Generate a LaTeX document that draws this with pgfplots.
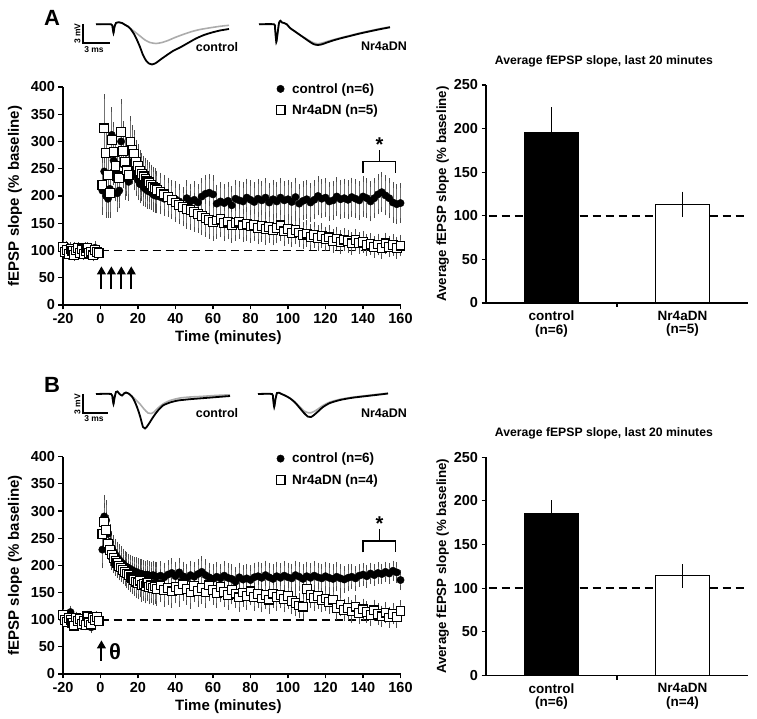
\documentclass[border=0pt]{standalone}
\usepackage{pgfplots}
\usepackage{pgfplotstable}
\pgfplotsset{compat=1.18}
\usetikzlibrary{arrows.meta}
\usepackage{fontspec}
\setmainfont{Liberation Sans}
\newcommand{\fs}[1]{\fontsize{#1}{#1}\selectfont\bfseries}

% ---------- Panel A, control ----------
\pgfplotstableread{
x y e
-20 104 7
-19 99 6
-18 107 6
-17 96 5
-16 102 6
-15 97 6
-14 104 7
-13 99 5
-12 93 6
-11 101 6
-10 98 5
-9 95 6
-8 104 6
-7 99 7
-6 94 5
-5 102 6
-4 97 6
-3 105 7
-2 98 6
-1 100 5
1 210 40
2 245 42
3 200 35
4 195 30
5 213 32
6 312 45
7 265 40
8 233 38
9 205 30
10 210 28
11 300 42
12 258 38
13 233 35
14 248 32
15 226 30
16 290 40
17 262 36
18 250 35
19 238 33
20 229 32
21 222 31
22 225 30
23 216 30
24 213 29
25 210 29
26 208 28
27 207 28
28 203 28
29 201 27
30 200 27
32 198 27
34 195 27
36 197 28
38 193 28
40 194 28
42 190 28
44 178 27
46 196 28
48 190 28
50 193 29
52 188 29
54 199 29
56 204 30
58 206 30
60 203 30
62 186 30
64 190 30
66 187 30
68 191 30
70 183 30
72 195 30
74 192 30
76 190 30
78 197 30
80 193 31
82 189 31
84 195 31
86 192 31
88 197 31
90 188 31
92 194 31
94 190 31
96 197 31
98 192 31
100 194 31
102 189 31
104 198 31
106 186 31
108 191 31
110 194 31
112 188 31
114 193 31
116 200 31
118 195 31
120 197 31
122 190 31
124 192 31
126 199 31
128 194 31
130 196 31
132 193 31
134 198 31
136 195 31
138 192 31
140 199 32
142 196 32
144 190 32
146 196 32
148 203 32
150 207 32
152 201 32
154 196 32
156 188 32
158 185 32
160 187 32
}\Actrl

% ---------- Panel A, Nr4aDN ----------
\pgfplotstableread{
x y e
-20 106 8
-19 97 7
-18 101 6
-17 94 6
-16 103 7
-15 99 6
-14 92 6
-13 100 7
-12 105 6
-11 96 6
-10 102 7
-9 93 6
-8 99 6
-7 104 7
-6 95 6
-5 98 6
-4 91 6
-3 101 7
-2 97 6
-1 95 6
1 220 45
2 324 58
3 279 50
4 238 45
5 205 40
6 303 55
7 281 50
8 255 45
9 236 42
10 233 40
11 318 55
12 282 50
13 262 45
14 247 42
15 238 40
16 300 42
17 285 40
18 278 38
19 262 36
20 255 35
21 246 34
22 240 34
23 236 33
24 232 33
25 228 33
26 225 32
27 221 32
28 217 32
29 214 32
30 211 31
32 207 31
34 203 31
36 198 31
38 193 31
40 188 31
42 184 31
44 180 31
46 176 31
48 174 31
50 170 31
52 167 30
54 163 30
56 160 30
58 156 30
60 152 30
62 155 29
64 158 29
66 150 28
68 153 28
70 147 28
72 150 27
74 153 27
76 146 26
78 149 26
80 144 25
82 147 25
84 141 25
86 145 24
88 139 24
90 143 24
92 137 23
94 141 23
96 146 23
98 135 22
100 139 22
102 132 21
104 137 21
106 133 21
108 128 20
110 131 20
112 125 19
114 129 19
116 123 19
118 127 18
120 121 18
122 124 18
124 118 17
126 122 17
128 115 17
130 120 16
132 117 16
134 113 16
136 119 16
138 114 15
140 116 15
142 110 15
144 112 15
146 106 15
148 111 15
150 104 15
152 113 15
154 107 15
156 110 15
158 105 15
160 109 15
}\Anr

% ---------- Panel B, control ----------
\pgfplotstableread{
x y e
-20 101 6
-19 97 5
-18 106 6
-17 99 5
-16 114 7
-15 103 6
-14 95 5
-13 104 6
-12 98 5
-11 92 6
-10 100 5
-9 96 6
-8 103 5
-7 94 6
-6 99 5
-5 86 6
-4 97 5
-3 104 6
-2 99 5
-1 101 5
1 229 30
2 290 35
3 283 32
4 258 30
5 243 28
6 232 27
7 225 26
8 219 25
9 214 25
10 210 24
11 206 24
12 203 23
13 199 23
14 197 23
15 195 22
16 193 22
17 191 22
18 189 22
19 188 22
20 186 22
21 185 22
22 184 22
23 183 22
24 182 22
25 183 22
26 181 22
27 180 22
28 182 22
29 180 22
30 179 22
32 181 22
34 178 22
36 183 22
38 186 22
40 180 22
42 187 22
44 180 22
46 176 22
48 182 22
50 179 22
52 184 22
54 188 24
56 182 24
58 178 22
60 175 22
62 179 22
64 176 22
66 181 22
68 177 22
70 175 22
72 170 22
74 178 22
76 174 22
78 176 22
80 173 22
82 178 22
84 180 22
86 177 22
88 182 22
90 178 22
92 175 22
94 180 22
96 177 22
98 181 22
100 178 22
102 176 22
104 182 22
106 179 22
108 175 22
110 180 22
112 177 22
114 181 22
116 178 22
118 176 22
120 180 22
122 177 22
124 175 22
126 179 22
128 176 22
130 174 20
132 177 20
134 179 18
136 176 18
138 181 16
140 183 16
142 180 16
144 185 15
146 182 15
148 186 15
150 184 14
152 188 14
154 185 14
156 190 14
158 187 14
160 173 14
}\Bctrl

% ---------- Panel B, Nr4aDN ----------
\pgfplotstableread{
x y e
-20 108 6
-19 99 5
-18 96 5
-17 103 6
-16 100 5
-15 94 5
-14 89 5
-13 104 6
-12 97 5
-11 101 5
-10 92 5
-9 98 5
-8 90 5
-7 106 6
-6 95 5
-5 91 5
-4 103 6
-3 99 5
-2 105 6
-1 98 5
1 258 30
2 280 30
3 265 28
4 240 26
5 228 25
6 220 24
7 213 23
8 208 22
9 204 22
10 199 22
11 196 22
12 192 22
13 188 22
14 185 22
15 182 22
16 178 23
17 176 24
18 173 25
19 170 26
20 168 26
21 172 26
22 164 27
23 166 27
24 162 27
25 167 27
26 160 27
27 163 27
28 158 27
29 161 27
30 157 27
32 163 26
34 155 26
36 158 26
38 152 26
40 160 25
42 154 25
44 165 25
46 157 25
48 150 25
50 162 25
52 153 24
54 158 24
56 150 24
58 163 24
60 155 23
62 149 23
64 160 23
66 151 23
68 145 22
70 155 22
72 148 22
74 141 22
76 150 21
78 144 21
80 152 21
82 142 21
84 147 21
86 139 21
88 145 21
90 137 21
92 148 21
94 142 21
96 146 20
98 138 20
100 144 20
102 135 20
104 131 20
106 126 18
108 124 18
110 157 20
112 146 19
114 140 19
116 143 19
118 136 18
120 139 18
122 133 18
124 137 18
126 122 17
128 128 17
130 118 16
132 121 16
134 115 16
136 124 16
138 112 15
140 119 15
142 114 15
144 108 15
146 117 15
148 110 15
150 106 15
152 113 15
154 104 15
156 111 15
158 105 15
160 116 15
}\Bnr

\pgfplotsset{
  timeaxis/.style={
    scale only axis, width=337.5pt,
    xmin=-20, xmax=160, ymin=0, ymax=400,
    axis x line*=bottom, axis y line*=left,
    axis line style={line width=1.1pt},
    xtick={-20,0,...,160}, ytick={0,50,...,400},
    tick align=outside, major tick length=4.5pt,
    tick style={line width=1.1pt, black},
    tick label style={font=\fs{14.5}},
    /pgf/number format/assume math mode=true,
    xlabel={Time (minutes)}, ylabel={fEPSP slope (\% baseline)},
    label style={font=\fs{15}},
    xlabel style={at={(axis description cs:0.49,-0.148)}, anchor=center},
    ylabel style={at={(axis description cs:-0.142,0.5)}, anchor=center},
    clip=false,
    legend cell align=left,
    legend style={draw=none, fill=none, at={(0.631,1.025)}, anchor=north west,
      font=\fs{13.5}, row sep=7pt, inner sep=0pt, nodes={inner sep=1.5pt}},
    legend image code/.code={\draw[##1] plot coordinates {(0.15cm,0cm)}; \path[draw=none, fill=none] (0cm,-0.1cm) rectangle (0.5cm,0.1cm);},
  },
  ctrlplot/.style={only marks, mark=*, mark size=3.7pt,
    mark options={draw=black, fill=black},
    error bars/.cd, y dir=both, y explicit,
    error bar style={black!55, line width=0.6pt},
    error mark options={black!70, line width=0.6pt, mark size=2.6pt}},
  nrplot/.style={only marks, mark=square*, mark size=4.4pt,
    mark options={draw=black, fill=white, line width=1.1pt},
    error bars/.cd, y dir=both, y explicit,
    error bar style={black!55, line width=0.6pt},
    error mark options={black!70, line width=0.6pt, mark size=2.6pt}},
  baraxis/.style={
    scale only axis, width=262pt, height=218pt,
    xmin=0.5, xmax=2.5, ymin=0, ymax=250,
    axis x line*=bottom, axis y line*=left,
    axis line style={line width=1.1pt},
    xtick={1,2}, xtick style={draw=none},
    x tick label style={align=center, font=\fontsize{13.5}{13.5}\selectfont\bfseries},
    ytick={0,50,...,250},
    tick align=outside, major tick length=4.5pt,
    y tick style={line width=1.1pt, black},
    y tick label style={font=\fs{14.5}},
    /pgf/number format/assume math mode=true,
    ylabel={Average fEPSP slope (\% baseline)},
    ylabel style={at={(axis description cs:-0.165,0.5)}, anchor=center, font=\fs{13.3}},
    title={Average fEPSP slope, last 20 minutes},
    title style={at={(axis description cs:0.45,1)}, anchor=center, yshift=18pt, font=\fs{12.2}},
    clip=false,
  },
}

\begin{document}
\begin{tikzpicture}
\useasboundingbox (0,0) rectangle (757pt,719pt);

% ===== traces and panel letters (pixel frame) =====
\begin{axis}[at={(0pt,0pt)}, anchor=south west, scale only axis,
  width=757pt, height=719pt, xmin=0, xmax=757, ymin=0, ymax=719,
  y dir=reverse, hide axis, clip=false]
% A control
\addplot[gray!65, line width=1.6pt, smooth, tension=0.4] coordinates {
(96,24.3) (111,24.3) (112.5,27) (113.5,33) (114.5,27) (116,23) (119,22.3) (122,23) (125,24.8) (128,26.5)
(131,29) (135,32) (140,36) (145,40) (150,42.5) (156,43.5) (162,42.5) (168,40.5) (175,37.5) (183,34.5)
(192,31.5) (200,29.5) (210,27.8) (220,26.3) (229,25.3)};
\addplot[black, line width=1.8pt, smooth, tension=0.4] coordinates {
(96,24.3) (111,24.3) (112.5,27) (113.5,33) (114.5,27) (116,23) (119,22.3) (122,23) (125,24.8) (128,26.5)
(131,29.5) (134,34) (137,40) (140,47) (143,55) (146,60.5) (149,63.5) (152,64.5) (155,63.5) (158,61.5)
(162,58.5) (167,55) (173,51) (180,47.5) (188,43) (196,38.5) (204,35) (212,32.5) (220,30.5) (229,29)};
% A Nr4aDN
\addplot[gray!65, line width=1.6pt, smooth, tension=0.4] coordinates {
(259,24.3) (274,24.3) (275,28) (276.3,42) (277.5,34) (279,23) (280.5,20.8) (282,22.5) (284,23) (287,24.5)
(290,28) (295,31.5) (300,35) (305,38) (310,41) (314,43) (318,43.7) (322,43) (327,41.5) (333,39.8)
(340,38) (350,35.5) (360,33) (370,30.8) (380,28.7) (390,26.8)};
\addplot[black, line width=1.8pt, smooth, tension=0.4] coordinates {
(259,24.3) (274,24.3) (275,28) (276.3,42) (277.5,34) (279,23) (280.5,20.8) (282,22.5) (284,23) (287,24.5)
(290,28) (295,31.5) (300,35) (305,38.5) (310,42) (314,44.3) (318,45) (322,44.3) (327,42.5) (333,40.5)
(340,38.5) (350,36) (360,33.5) (370,31.3) (380,29.2) (390,27.3)};
% A scale bar
\addplot[black, line width=1.2pt] coordinates {(83,24) (83,43) (110,43)};
\node[rotate=90, font=\fs{8.5}] at (axis cs:77.5,33.5) {3 mV};
\node[font=\fs{8.5}] at (axis cs:94,49.3) {3 ms};
\node[font=\fs{12.5}] at (axis cs:217,46.7) {control};
\node[font=\fs{12.5}] at (axis cs:384,46.7) {Nr4aDN};
\node[font=\fs{22}] at (axis cs:52,18) {A};

% B control
\addplot[gray!65, line width=1.6pt, smooth, tension=0.4] coordinates {
(96,394) (111,394) (112.5,398) (113.5,404) (114.5,398) (116,392) (117.5,391.5) (119.5,394) (122,395.5) (124,393.5)
(126,392.5) (128.5,393.5) (131.5,396) (134,398) (137,401) (140,404) (144,409) (148,413) (151,413.5) (154,412)
(158,408) (163,404) (170,400.5) (180,398) (190,397) (200,396.5) (215,395.5) (230,394.8)};
\addplot[black, line width=1.8pt, smooth, tension=0.4] coordinates {
(96,394) (111,394) (112.5,398) (113.5,404) (114.5,398) (116,392) (117.5,391.5) (119.5,394) (122,395.5) (124,393.5)
(126,392.5) (128.5,393.5) (131.5,396) (134,400) (137,407) (140,416) (143,427) (145,428.5) (147,426.5) (150,422)
(153.5,416.5) (158,410.5) (163,405.5) (170,402.5) (178,400.5) (190,399.2) (200,398.4) (215,397.2) (230,396)};
% B Nr4aDN
\addplot[gray!65, line width=1.6pt, smooth, tension=0.4] coordinates {
(258,394) (272,394) (273,398) (274.2,407) (275.5,399) (277,393) (279,392.7) (281.5,394) (285,395.5) (290,398.3)
(295,402) (300,407) (304,411) (308,412.7) (311,412.8) (314,411.5) (318,409) (323,405.5) (330,402) (340,399.3)
(352,397.3) (367,395.5) (380,394) (388,393.2)};
\addplot[black, line width=1.8pt, smooth, tension=0.4] coordinates {
(258,394) (272,394) (273,398) (274.2,407) (275.5,399) (277,393) (279,392.7) (281.5,394) (285,395.5) (290,398.3)
(295,402.5) (300,408.3) (304,413) (308,416.7) (311,417) (314,415) (318,411.5) (323,407) (330,403) (340,400)
(352,397.8) (367,396) (380,394.5) (388,393.5)};
% B scale bar
\addplot[black, line width=1.2pt] coordinates {(83,394) (83,413) (108,413)};
\node[rotate=90, font=\fs{8.5}] at (axis cs:77.5,404) {3 mV};
\node[font=\fs{8.5}] at (axis cs:94,419) {3 ms};
\node[font=\fs{12.5}] at (axis cs:217,413.3) {control};
\node[font=\fs{12.5}] at (axis cs:384,413.3) {Nr4aDN};
\node[font=\fs{22}] at (axis cs:52,385) {B};
\end{axis}

% ===== A time course =====
\begin{axis}[timeaxis, height=218pt, at={(63pt,414pt)}, anchor=south west]
\addplot[black, line width=1.8pt, dash pattern=on 8pt off 5pt, forget plot] coordinates {(0,100) (160,100)};
\addplot[ctrlplot] table[x=x, y=y, y error=e] {\Actrl};
\addlegendentry{control (n=6)}
\addplot[nrplot] table[x=x, y=y, y error=e] {\Anr};
\addlegendentry{Nr4aDN (n=5)}
\draw[line width=2pt, -{Triangle[length=8pt,width=8.5pt]}] (axis cs:0.5,29) -- (axis cs:0.5,71);
\draw[line width=2pt, -{Triangle[length=8pt,width=8.5pt]}] (axis cs:5.8,29) -- (axis cs:5.8,71);
\draw[line width=2pt, -{Triangle[length=8pt,width=8.5pt]}] (axis cs:11.1,29) -- (axis cs:11.1,71);
\draw[line width=2pt, -{Triangle[length=8pt,width=8.5pt]}] (axis cs:16.4,29) -- (axis cs:16.4,71);
\draw[line width=1.3pt] (axis cs:140,242) -- (axis cs:140,263) -- (axis cs:157.5,263) -- (axis cs:157.5,242);
\draw[line width=1.3pt] (axis cs:148.75,263) -- (axis cs:148.75,284);
\node[font=\fs{20}] at (axis cs:148.75,295) {*};
\end{axis}

% ===== B time course =====
\begin{axis}[timeaxis, height=217.3pt, at={(63pt,45pt)}, anchor=south west]
\addplot[black, line width=1.8pt, dash pattern=on 8pt off 5pt, forget plot] coordinates {(0,100) (160,100)};
\addplot[ctrlplot] table[x=x, y=y, y error=e] {\Bctrl};
\addlegendentry{control (n=6)}
\addplot[nrplot] table[x=x, y=y, y error=e] {\Bnr};
\addlegendentry{Nr4aDN (n=4)}
\draw[line width=2pt, -{Triangle[length=8pt,width=8.5pt]}] (axis cs:0.5,24) -- (axis cs:0.5,62);
\node[font=\fs{22}] at (axis cs:7.8,41) {θ};
\draw[line width=1.3pt] (axis cs:140,224) -- (axis cs:140,245) -- (axis cs:157.5,245) -- (axis cs:157.5,224);
\draw[line width=1.3pt] (axis cs:148.75,245) -- (axis cs:148.75,266);
\node[font=\fs{20}] at (axis cs:148.75,277) {*};
\end{axis}

% ===== A bar chart =====
\begin{axis}[baraxis, at={(486pt,416pt)}, anchor=south west,
  xticklabels={{control\\(n=6)},{Nr4aDN\\(n=5)}}]
\addplot[black, line width=1.8pt, dash pattern=on 8pt off 5pt] coordinates {(0.52,100) (2.48,100)};
\addplot[ybar, bar width=54pt, bar shift=0pt, fill=black, draw=black, line width=1pt,
  error bars/.cd, y dir=plus, y explicit, error bar style={line width=0.9pt},
  error mark options={line width=0.9pt, mark size=4pt}] coordinates {(1,195) +- (0,25)};
\addplot[ybar, bar width=54pt, bar shift=0pt, fill=white, draw=black, line width=1pt,
  error bars/.cd, y dir=both, y explicit, error bar style={line width=0.9pt},
  error mark options={line width=0.9pt, mark size=4pt}] coordinates {(2,113) +- (0,10)};
\draw[line width=1.1pt] (axis cs:1.5,0) -- (axis cs:1.5,-5);
\end{axis}

% ===== B bar chart =====
\begin{axis}[baraxis, at={(486pt,43.7pt)}, anchor=south west,
  xticklabels={{control\\(n=6)},{Nr4aDN\\(n=4)}}]
\addplot[black, line width=1.8pt, dash pattern=on 8pt off 5pt] coordinates {(0.52,100) (2.48,100)};
\addplot[ybar, bar width=54pt, bar shift=0pt, fill=black, draw=black, line width=1pt,
  error bars/.cd, y dir=plus, y explicit, error bar style={line width=0.9pt},
  error mark options={line width=0.9pt, mark size=4pt}] coordinates {(1,185) +- (0,11)};
\addplot[ybar, bar width=54pt, bar shift=0pt, fill=white, draw=black, line width=1pt,
  error bars/.cd, y dir=both, y explicit, error bar style={line width=0.9pt},
  error mark options={line width=0.9pt, mark size=4pt}] coordinates {(2,114) +- (0,9)};
\draw[line width=1.1pt] (axis cs:1.5,0) -- (axis cs:1.5,-5);
\end{axis}
\end{tikzpicture}
\end{document}
